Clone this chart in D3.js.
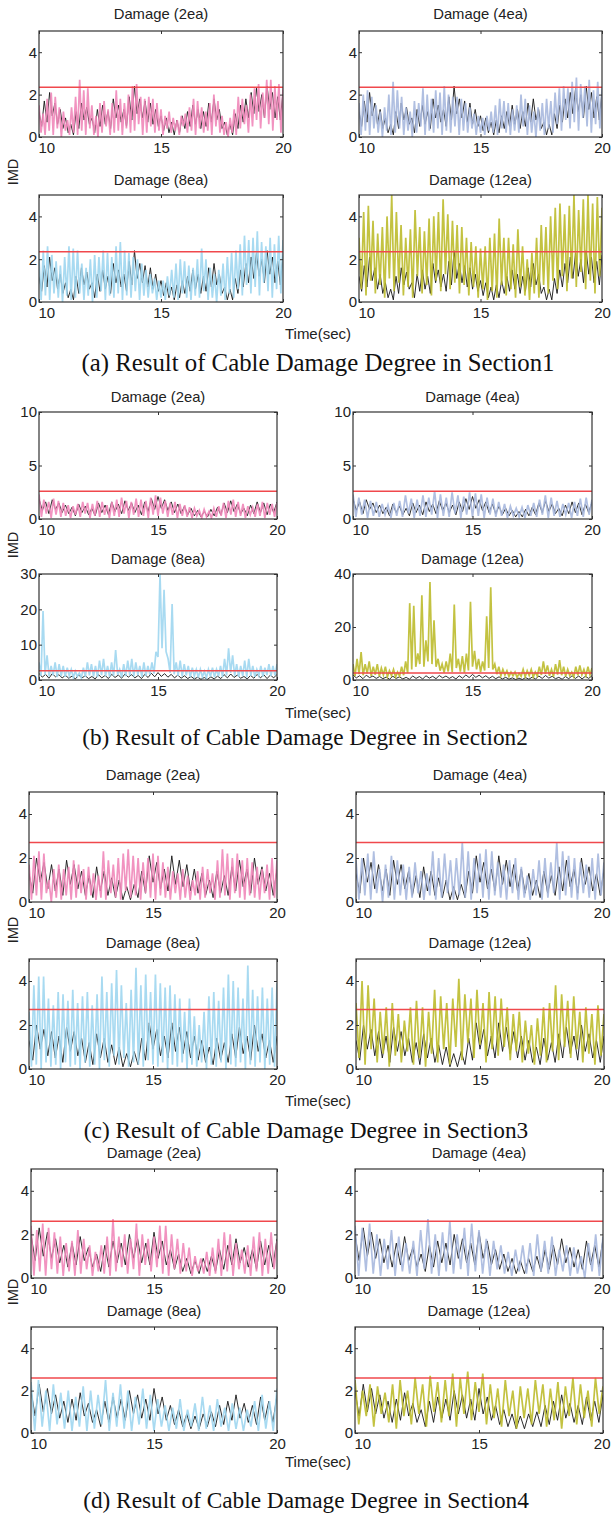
<!DOCTYPE html>
<html>
<head>
<meta charset="utf-8">
<script src="https://cdn.jsdelivr.net/npm/d3@7"></script>
<style>
  body { margin: 0; background: #fff; }
  svg { display: block; }
</style>
</head>
<body>
<script>
// reference (undamaged) response, black, one per section
const refA = [1.2,0.5, 1.7,0.7, 2.1,1.0, 1.6,0.6, 1.3,0.4, 0.9,0.2, 0.6,0.1, 1.2,0.4, 1.6,0.8, 1.4,0.6, 0.9,0.2, 1.3,0.5, 1.5,0.6, 1.2,0.4, 1.8,0.9, 1.5,0.7, 1.3,0.5, 1.9,0.8, 2.4,1.1, 1.8,0.9, 1.7,0.7, 1.6,0.6, 1.3,0.5, 1.0,0.3, 0.9,0.2, 0.7,0.1, 0.8,0.2, 1.0,0.4, 1.2,0.5, 1.5,0.6, 1.3,0.4, 1.2,0.5, 1.6,0.7, 1.8,0.8, 1.3,0.4, 0.7,0.1, 0.6,0.1, 1.1,0.4, 1.5,0.7, 1.8,0.9, 2.1,1.1, 2.3,1.2, 2.0,0.9, 2.4,1.3, 2.1,0.9, 1.9,0.8, 2.2];
const refB = [1.9,0.8, 1.6,0.5, 1.8,0.9, 1.5,0.6, 1.3,0.5, 1.1,0.3, 1.4,0.6, 1.2,0.4, 1.0,0.3, 1.5,0.6, 1.3,0.4, 1.6,0.7, 1.4,0.5, 1.7,0.8, 1.5,0.6, 1.3,0.4, 1.6,0.7, 1.9,0.9, 2.1,1.0, 1.8,0.8, 1.6,0.6, 1.4,0.5, 1.2,0.4, 1.0,0.3, 0.8,0.2, 0.7,0.2, 0.9,0.3, 1.1,0.4, 1.5,0.6, 1.7,0.7, 1.4,0.5, 1.0,0.3, 1.3,0.5, 1.6,0.6, 1.5,0.4, 1.4,0.6, 1.6];
const refC = [1.3,0.4, 2.0,0.9, 1.8,0.6, 1.7,0.5, 1.5,0.3, 1.9,0.8, 1.7,0.6, 1.4,0.3, 1.2,0.2, 1.6,0.5, 1.4,0.3, 1.1,0.2, 1.0,0.1, 0.7,0.1, 0.8,0.2, 1.4,0.4, 2.1,0.9, 1.8,0.6, 1.5,0.5, 2.1,0.8, 1.9,0.7, 1.7,0.5, 1.5,0.4, 1.3,0.3, 1.0,0.2, 1.4,0.4, 1.2,0.3, 1.6,0.5, 1.9,0.7, 1.5,0.4, 2.0,0.8, 1.6,0.5, 1.3,0.3, 1.5];
const refD = [2.0,0.8, 2.3,1.0, 2.1,0.9, 1.8,0.7, 1.5,0.5, 1.6,0.6, 1.9,0.8, 1.4,0.5, 1.1,0.3, 1.5,0.5, 1.7,0.7, 1.6,0.6, 2.0,0.9, 1.8,0.7, 1.6,0.6, 2.1,0.9, 1.7,0.6, 1.3,0.4, 1.1,0.3, 0.9,0.2, 0.8,0.2, 0.9,0.3, 1.0,0.3, 1.3,0.4, 1.5,0.6, 1.8,0.7, 1.4,0.5, 1.3,0.4, 1.7,0.6, 1.5,0.5, 1.8];

// damaged responses, section 1
const dmgA2 = [1.5,0.2, 1.1,0.1, 1.8,0.3, 2.1,0.1, 1.9,0.4, 1.4,0, 1.2,0.3, 0.8,0.1, 1.4,0.2, 1.9,0.1, 2.7,0.3, 2.2,0.1, 2.3,0.4, 1.5,0.1, 1.0,0, 1.6,0.2, 1.7,0.5, 1.3,0.1, 1.6,0.2, 2.2,0.3, 1.8,0.1, 1.6,0.4, 2.0,0.2, 2.4,0.3, 2.5,0.6, 1.9,0.1, 1.8,0.2, 1.9,0.5, 1.8,0.2, 1.6,0.3, 1.3,0.1, 1.0,0.4, 1.2,0.2, 0.9,0.3, 0.8,0.1, 1.0,0.5, 1.1,0.2, 1.4,0.3, 1.8,0.1, 1.7,0.4, 1.4,0.2, 1.2,0.3, 1.6,0.1, 2.0,0.5, 1.7,0.2, 1.0,0.1, 0.7,0, 0.9,0.2, 1.3,0.1, 1.9,0.4, 1.8,0.6, 1.5,0.2, 2.0,0.5, 2.3,0.8, 2.5,0.4, 2.1,0.9, 2.7,0.6, 2.7,0.3, 2.4,0.8, 2.5,0.2, 2.3];
const dmgA4 = [1.6,0.1, 2.0,0.3, 2.2,0.1, 1.9,0.4, 1.5,0.2, 1.2,0, 1.4,0.3, 2.0,0.1, 2.6,0.2, 2.2,0.4, 1.9,0.1, 1.4,0.3, 1.2,0, 1.7,0.2, 1.6,0.5, 2.3,0.1, 2.0,0.3, 1.8,0.2, 2.2,0.4, 2.1,0.1, 2.4,0.3, 2.0,0.2, 1.9,0.5, 1.9,0.1, 1.8,0.3, 1.6,0.2, 1.4,0.4, 1.1,0.1, 1.0,0.2, 0.9,0.1, 1.0,0.3, 1.2,0.2, 1.5,0.1, 1.8,0.4, 1.7,0.2, 1.6,0.1, 1.3,0.3, 1.5,0.2, 2.0,0.5, 1.8,0.1, 1.5,0.2, 1.2,0, 1.4,0.3, 1.6,0.1, 1.8,0.4, 1.7,0.2, 2.1,0.6, 2.3,0.3, 2.4,0.8, 2.3,0.4, 2.6,0.7, 2.8,0.3, 2.5,0.9, 2.4,0.5, 2.7,0.2, 2.2,0.6, 2.6,0.4, 2.3];
const dmgA8 = [2.0,0.1, 2.4,0.3, 2.6,0.1, 2.2,0.4, 1.9,0.2, 1.7,0, 2.1,0.3, 2.6,0.1, 2.5,0.2, 2.4,0.4, 1.8,0.1, 1.6,0.3, 2.0,0, 2.2,0.2, 2.1,0.5, 2.4,0.1, 2.3,0.3, 2.1,0.2, 2.6,0.4, 2.8,0.1, 2.4,0.3, 2.3,0.2, 2.1,0.5, 2.0,0.1, 1.8,0.3, 1.5,0.2, 1.3,0.4, 1.1,0.1, 1.0,0.2, 1.0,0.1, 1.2,0.3, 1.5,0.2, 1.8,0.1, 2.0,0.4, 1.9,0.2, 1.7,0.1, 1.6,0.3, 2.0,0.2, 2.5,0.5, 2.0,0.1, 1.6,0.2, 1.3,0, 1.5,0.3, 1.8,0.1, 2.1,0.4, 2.3,0.2, 2.4,0.6, 2.7,0.3, 3.1,0.8, 2.9,0.4, 3.0,0.7, 3.3,0.3, 2.8,0.9, 2.6,0.5, 3.0,0.2, 2.7,0.6, 3.1,0.4, 2.9];
const dmgA12 = [3.0,0.6, 4.2,0.3, 4.5,1.0, 3.8,0.4, 3.2,0.8, 3.5,0.2, 4.0,1.1, 5.0,0.5, 4.2,0.9, 3.6,0.3, 3.0,0.7, 3.4,0.2, 4.3,1.2, 3.5,0.4, 3.3,0.8, 3.9,0.3, 4.0,1.0, 4.2,0.5, 4.8,1.3, 4.1,0.6, 3.8,0.9, 3.6,0.4, 3.5,0.8, 3.0,0.3, 2.8,0.7, 2.6,0.2, 2.5,0.6, 2.6,0.1, 3.0,0.5, 3.2,0.2, 3.9,0.8, 3.0,0.3, 3.0,0.6, 2.7,0.2, 3.4,0.7, 2.6,0.3, 2.0,0.1, 2.3,0.4, 3.0,0.2, 3.6,0.8, 3.5,0.4, 4.0,1.0, 4.4,0.6, 4.6,1.2, 4.1,0.5, 4.5,1.1, 5.0,0.7, 4.3,1.4, 4.8,0.6, 5.0,1.0, 4.6,0.4, 4.9,1.2, 4.4];

// section 2
const dmgB2 = [2.3,0.2, 1.8,0.5, 1.6,0.1, 1.9,0.4, 1.7,0.2, 1.5,0.3, 1.3,0.1, 1.2,0.4, 1.4,0.2, 1.6,0.5, 1.5,0.1, 1.4,0.3, 1.7,0.2, 1.6,0.4, 1.3,0.1, 1.6,0.3, 1.8,0.2, 2.0,0.5, 1.7,0.1, 1.6,0.4, 1.9,0.2, 1.8,0.3, 1.7,0.1, 2.0,0.4, 2.2,0.3, 2.0,0.5, 1.7,0.2, 1.5,0.4, 1.6,0.1, 1.4,0.3, 1.3,0.2, 1.1,0.1, 1.0,0.3, 0.8,0.1, 0.9,0.2, 0.7,0.1, 1.0,0.2, 1.2,0.3, 1.5,0.1, 1.7,0.4, 1.8,0.2, 1.6,0.3, 1.4,0.1, 1.2,0.4, 1.1,0.2, 1.4,0.3, 1.6,0.1, 1.5,0.4, 1.4,0.2, 1.5];
const dmgB4 = [2.3,0.2, 2.0,0.4, 1.8,0.1, 1.7,0.3, 1.6,0.2, 1.4,0.4, 1.3,0.1, 1.5,0.3, 1.7,0.2, 2.2,0.5, 1.9,0.1, 1.8,0.3, 2.2,0.2, 2.0,0.4, 2.6,0.1, 2.3,0.3, 2.0,0.2, 2.5,0.5, 2.2,0.1, 2.1,0.4, 2.5,0.2, 2.4,0.3, 2.3,0.1, 2.0,0.4, 1.9,0.2, 1.6,0.3, 1.4,0.1, 1.2,0.3, 1.0,0.2, 1.1,0.1, 1.3,0.3, 1.5,0.2, 1.8,0.4, 2.2,0.1, 2.0,0.3, 1.7,0.2, 1.4,0.4, 1.5,0.1, 1.6,0.3, 1.9,0.2, 2.0,0.4, 1.8];
const dmgB8 = [5,1.2, 19.5,1.5, 7,1.0, 4,1.3, 5,0.8, 4.5,1.1, 4,0.9, 3.5,1.2, 3,0.7, 2.5,1.0, 2,0.6, 3.5,0.9, 5,1.3, 4.5,1.0, 4,0.8, 5.5,1.4, 6,1.1, 4,0.9, 5,1.2, 8.5,1.5, 3,0.8, 4.5,1.1, 5.5,1.3, 6,1.0, 5,1.4, 4,0.9, 5,1.2, 4,1.5, 5,1.8, 8,6.5, 30,9, 25.5,8, 6,2.0, 21.5,1.6, 5,1.2, 5.5,1.0, 4.5,1.3, 4,0.8, 3.5,1.1, 3,0.7, 3,0.9, 2.5,0.6, 3,1.0, 3.5,0.8, 3,1.1, 4,0.9, 6,1.3, 9,2.0, 7,1.2, 4.5,0.9, 4,1.1, 5.5,0.8, 6,1.2, 4,0.9, 3,1.3, 4,1.0, 3.5,1.4, 4.5,1.1, 4,1.3, 4.5];
const dmgB12 = [6,1.5, 8,2.2, 10.5,1.8, 6,2.5, 7,1.6, 5,2.0, 6,1.4, 4.5,1.9, 5,1.2, 3.5,1.7, 4,1.1, 3,1.5, 5,1.8, 7,2.6, 29,4, 28,5, 10,6, 32,5, 15,7, 37,6, 22.5,5, 8,3.5, 6,2.8, 7,3.2, 10,3.0, 28.5,4.5, 8,3.2, 9,2.8, 10,3.6, 29.5,5, 11,4.0, 8,3.1, 7,3.6, 24,4.5, 35,4, 6,2.2, 5,1.6, 4,1.9, 3.5,1.3, 3,1.6, 3,1.0, 2.5,1.4, 4,1.2, 3.5,1.7, 4,1.1, 3,1.5, 5,1.9, 7,2.2, 5.5,1.6, 4,1.3, 6,2.0, 7.5,1.8, 5,1.4, 4,1.7, 3,1.2, 5,1.8, 5.5,2.0, 4,1.6, 5,1.9, 4.5];

// section 3
const dmgC2 = [1.7,0.1, 2.1,0.3, 2.3,0.1, 2.2,0.4, 1.0,0, 1.5,0.2, 1.7,0.1, 1.5,0.3, 1.6,0.1, 1.9,0.2, 1.7,0.4, 1.5,0.1, 1.6,0.3, 1.3,0.1, 1.2,0.2, 2.3,0.1, 1.9,0.4, 1.7,0.2, 2.0,0.1, 2.2,0.5, 2.4,0.2, 2.1,0.3, 2.0,0.1, 1.8,0.4, 2.0,0.2, 2.2,0.1, 2.1,0.3, 1.8,0.2, 1.6,0.1, 1.4,0.4, 1.3,0.1, 1.5,0.2, 1.2,0.1, 1.0,0.3, 1.4,0.1, 1.6,0.2, 1.5,0.4, 1.3,0.1, 1.9,0.2, 2.4,0.3, 2.2,0.1, 2.0,0.4, 2.2,0.2, 1.9,0.1, 2.0,0.3, 1.8,0.2, 1.6,0.1, 1.5,0.4, 1.7,0.1, 2.0,0.2, 1.9];
const dmgC4 = [1.9,0.1, 2.0,0.3, 2.2,0.1, 2.3,0.4, 1.5,0, 1.7,0.2, 2.1,0.1, 1.9,0.3, 1.7,0.1, 1.6,0.2, 1.8,0.4, 1.4,0.1, 1.3,0.3, 2.3,0.1, 2.0,0.2, 2.2,0.4, 1.9,0.1, 2.0,0.3, 2.7,0.2, 2.3,0.1, 2.0,0.4, 2.2,0.2, 2.4,0.1, 2.3,0.3, 1.8,0.2, 1.7,0.1, 1.9,0.4, 2.0,0.1, 1.6,0.2, 1.2,0.1, 1.5,0.3, 1.9,0.1, 2.0,0.2, 1.8,0.4, 2.7,0.1, 2.3,0.3, 2.1,0.2, 2.0,0.1, 1.8,0.4, 1.7,0.2, 2.0,0.1, 2.2,0.3, 1.8];
const dmgC8 = [2.6,0.1, 3.8,0.2, 4.2,0, 4.2,0.3, 3.2,0.1, 2.9,0.2, 3.5,0, 3.4,0.3, 3.1,0.1, 3.6,0.2, 3.0,0, 3.3,0.3, 3.5,0.1, 2.9,0.2, 3.4,0, 4.2,0.4, 3.5,0.1, 3.9,0.6, 4.5,0.2, 3.8,0.5, 3.0,0.1, 3.6,0.3, 4.6,0.2, 3.8,0.1, 4.3,0.4, 3.5,0.2, 4.3,0.1, 3.9,0.3, 3.7,0, 3.8,0.2, 3.4,0.1, 3.2,0.3, 2.6,0, 3.2,0.2, 2.4,0.1, 2.0,0.3, 2.6,0, 3.3,0.2, 3.5,0.1, 3.1,0.3, 3.7,0, 4.3,0.2, 4.0,0.1, 3.7,0.3, 3.2,0, 4.7,0.2, 3.6,0.1, 3.3,0.3, 3.7,0, 3.2,0.2, 3.7,0.1, 3.9];
const dmgC12 = [3.0,0.5, 4.0,0.2, 3.8,0.9, 3.2,0.3, 2.6,0.7, 2.8,0.1, 3.0,0.6, 2.5,0.3, 2.2,0.8, 2.8,0.2, 3.1,0.5, 2.8,0.1, 2.6,0.7, 3.6,0.3, 3.3,0.9, 3.0,0.2, 3.2,1.0, 4.1,0.4, 3.4,1.2, 3.2,0.5, 3.6,1.1, 3.0,0.3, 3.5,0.9, 3.3,0.6, 3.2,1.0, 2.8,0.4, 2.5,0.8, 2.6,0.3, 2.2,0.7, 2.0,0.2, 2.3,0.6, 2.8,0.3, 3.0,0.8, 3.8,0.4, 3.4,1.0, 3.1,0.5, 3.3,0.9, 2.6,0.3, 2.8,0.7, 2.5,0.2, 2.9,0.6, 2.5];

// section 4
const dmgD2 = [2.4,0.1, 2.2,0.3, 2.5,0.1, 2.3,0.4, 2.1,0.2, 1.9,0.1, 1.6,0.3, 1.7,0.1, 2.2,0.2, 1.8,0.4, 1.5,0.1, 1.2,0.3, 1.5,0.2, 1.9,0.1, 2.7,0.3, 1.9,0.5, 2.0,0.2, 1.8,0.4, 2.5,0.1, 2.0,0.6, 1.8,0.3, 1.9,0.5, 2.4,0.2, 2.4,0.1, 2.0,0.4, 1.8,0.2, 1.6,0.3, 1.4,0.1, 1.0,0.3, 0.9,0.2, 1.2,0.1, 1.4,0.2, 1.8,0.1, 2.1,0.3, 2.0,0.1, 1.6,0.4, 1.3,0.2, 1.5,0.1, 1.9,0.3, 2.1,0.1, 1.8,0.2, 2.1,0.4, 1.7];
const dmgD4 = [2.4,0.1, 2.3,0.3, 2.5,0.2, 2.0,0.1, 1.8,0.4, 2.2,0.1, 1.9,0.3, 1.6,0.2, 1.7,0.1, 2.2,0.4, 2.7,0.2, 2.0,0.1, 2.1,0.3, 2.6,0.2, 2.0,0.4, 2.3,0.1, 2.5,0.3, 2.2,0.2, 1.8,0.1, 1.7,0.4, 1.5,0.2, 1.2,0.1, 1.3,0.3, 1.5,0.2, 1.6,0.1, 2.0,0.3, 1.7,0.2, 1.9,0.1, 1.3,0.3, 1.5,0.1, 1.4,0.2, 1.0,0, 1.6,0.3, 2.0,0.1, 1.9];
const dmgD8 = [2.4,0.1, 2.5,0.3, 2.0,0.1, 2.3,0.4, 1.9,0.2, 2.0,0.1, 1.7,0.3, 2.2,0.1, 2.0,0.2, 1.8,0.4, 2.5,0.1, 1.9,0.3, 2.3,0.2, 2.0,0.1, 1.7,0.4, 2.1,0.2, 1.8,0.1, 1.6,0.3, 1.3,0.1, 1.2,0.2, 1.6,0.1, 1.1,0.3, 1.4,0.1, 1.7,0.2, 1.3,0.1, 1.6,0.3, 1.2,0.1, 1.4,0.2, 1.2,0.1, 1.1,0.3, 1.5,0.1, 1.8,0.2, 1.5,0.1, 2.1];
const dmgD12 = [2.5,0.4, 2.0,0.8, 2.3,0.3, 2.2,0.9, 1.9,0.5, 2.3,0.2, 2.5,0.8, 2.0,0.4, 2.6,0.9, 2.3,0.3, 2.7,1.0, 2.4,0.5, 2.5,0.8, 2.8,0.3, 2.6,0.9, 2.9,0.6, 2.4,1.0, 2.8,0.4, 2.3,0.7, 2.1,0.3, 2.5,0.8, 2.0,0.2, 2.2,0.7, 2.1,0.4, 2.5,0.9, 2.3,0.3, 2.1,0.6, 2.4,0.2, 2.2,0.8, 2.6,0.4, 2.3,0.7, 2.0,0.3, 2.6,0.9, 2.2];

const timeTicks = [10, 15, 20];
const panelTitles = ["Damage (2ea)", "Damage (4ea)", "Damage (8ea)", "Damage (12ea)"];
const captions = [
  "(a) Result of Cable Damage Degree in Section1",
  "(b) Result of Cable Damage Degree in Section2",
  "(c) Result of Cable Damage Degree in Section3",
  "(d) Result of Cable Damage Degree in Section4"
];
const thresholds = [2.35, 2.6, 2.7, 2.6];
const yMaxA = [5, 5, 5, 5], yMaxB = [10, 10, 30, 40], yMaxC = [5, 5, 5, 5], yMaxD = [5, 5, 5, 5];
const yTicksA = [[0, 2, 4], [0, 2, 4], [0, 2, 4], [0, 2, 4]];
const yTicksB = [[0, 5, 10], [0, 5, 10], [0, 10, 20, 30], [0, 20, 40]];

const sections = [
  { ref: refA, series: [dmgA2, dmgA4, dmgA8, dmgA12], yMax: yMaxA, yTicks: yTicksA },
  { ref: refB, series: [dmgB2, dmgB4, dmgB8, dmgB12], yMax: yMaxB, yTicks: yTicksB },
  { ref: refC, series: [dmgC2, dmgC4, dmgC8, dmgC12], yMax: yMaxC, yTicks: yTicksA },
  { ref: refD, series: [dmgD2, dmgD4, dmgD8, dmgD12], yMax: yMaxD, yTicks: yTicksA }
];

const colors = ["#ef87b9", "#a7b8de", "#9fd6f0", "#bdbb2c"];
const sans = "'Liberation Sans', Arial, sans-serif";
const serif = "'Liberation Serif', 'Times New Roman', serif";

// pixel layout of each section (box edges, text rows)
const layout = [
  { cols: [[39, 283], [359, 602]], rows: [[31, 137], [195, 302]], titleY: [14, 180], imdY: 172, timeY: 333, capX: 318, capY: 362, capSize: 24.8 },
  { cols: [[39, 277], [353, 592]], rows: [[412, 519], [574, 680]], titleY: [397, 559], imdY: 545, timeY: 712, capX: 305, capY: 737, capSize: 23.3 },
  { cols: [[29, 277], [356, 604]], rows: [[792, 902], [959, 1069]], titleY: [775, 943], imdY: 930, timeY: 1100, capX: 306, capY: 1130, capSize: 23.3 },
  { cols: [[31, 277], [355, 603]], rows: [[1169, 1278], [1327, 1433]], titleY: [1153, 1311], imdY: 1292, timeY: 1461, capX: 306, capY: 1500, capSize: 23.3 }
];

const width = 611, height = 1517;
const svg = d3.select("body").append("svg")
  .attr("width", width)
  .attr("height", height);

let clipCount = 0;

function drawPanel(x0, x1, y0, y1, sec, k, threshold) {
  const x = d3.scaleLinear().domain([10, 20]).range([x0, x1]);
  const y = d3.scaleLinear().domain([0, sec.yMax[k]]).range([y1, y0]);
  const g = svg.append("g");

  const clipId = "clip" + clipCount++;
  g.append("clipPath").attr("id", clipId)
    .append("rect")
    .attr("x", x0).attr("y", y0)
    .attr("width", x1 - x0).attr("height", y1 - y0);

  const plot = g.append("g").attr("clip-path", "url(#" + clipId + ")");

  function lineFor(arr) {
    const t = d3.scaleLinear().domain([0, arr.length - 1]).range([10, 20]);
    return d3.line()
      .x(function (d, i) { return x(t(i)); })
      .y(function (d) { return y(d); });
  }

  plot.append("path")
    .datum(sec.ref)
    .attr("d", lineFor(sec.ref))
    .attr("fill", "none")
    .attr("stroke", "#151515")
    .attr("stroke-width", 0.9);

  const dmg = sec.series[k];
  plot.append("path")
    .datum(dmg)
    .attr("d", lineFor(dmg))
    .attr("fill", "none")
    .attr("stroke", colors[k])
    .attr("stroke-width", 1.7)
    .attr("stroke-linejoin", "miter")
    .attr("stroke-opacity", 0.9);

  plot.append("line")
    .attr("x1", x(10)).attr("x2", x(20))
    .attr("y1", y(threshold)).attr("y2", y(threshold))
    .attr("stroke", "#f0484c")
    .attr("stroke-width", 1.5);

  // axes, ticks pointing inwards (MATLAB style)
  const xb = g.append("g").attr("transform", "translate(0," + y1 + ")")
    .call(d3.axisBottom(x).tickValues(timeTicks).tickSize(-3).tickPadding(5).tickFormat(d3.format("d")));
  g.append("g").attr("transform", "translate(0," + y0 + ")")
    .call(d3.axisTop(x).tickValues(timeTicks).tickSize(-3).tickFormat(""));
  g.append("g").attr("transform", "translate(" + x0 + ",0)")
    .call(d3.axisLeft(y).tickValues(sec.yTicks[k]).tickSize(-3).tickPadding(2).tickFormat(d3.format("d")));
  g.append("g").attr("transform", "translate(" + x1 + ",0)")
    .call(d3.axisRight(y).tickValues(sec.yTicks[k]).tickSize(-3).tickFormat(""));

  xb.selectAll(".tick text").filter(function (d) { return d === 10; })
    .attr("text-anchor", "start").attr("x", -1);
  // keep the last label inside the page
  if (x1 + 9 > width) {
    xb.selectAll(".tick text").filter(function (d) { return d === 20; })
      .attr("text-anchor", "end").attr("x", width - x1 - 1);
  }

  g.selectAll(".domain").remove();
  g.selectAll(".tick line").attr("stroke", "#333");
  g.selectAll(".tick text")
    .attr("fill", "#222")
    .style("font-family", sans)
    .style("font-size", "15px");

  g.append("rect")
    .attr("x", x0).attr("y", y0)
    .attr("width", x1 - x0).attr("height", y1 - y0)
    .attr("fill", "none")
    .attr("stroke", "#333")
    .attr("stroke-width", 1.2);
}

sections.forEach(function (sec, s) {
  const L = layout[s];
  for (let k = 0; k < 4; k++) {
    const r = Math.floor(k / 2), c = k % 2;
    const [x0, x1] = L.cols[c];
    const [y0, y1] = L.rows[r];
    drawPanel(x0, x1, y0, y1, sec, k, thresholds[s]);

    svg.append("text")
      .attr("x", (x0 + x1) / 2)
      .attr("y", L.titleY[r])
      .attr("text-anchor", "middle")
      .attr("dominant-baseline", "central")
      .style("font-family", sans)
      .style("font-size", "14.8px")
      .attr("fill", "#222")
      .text(panelTitles[k]);
  }

  svg.append("text")
    .attr("transform", "translate(13," + L.imdY + ") rotate(-90)")
    .attr("text-anchor", "middle")
    .attr("dominant-baseline", "central")
    .style("font-family", sans)
    .style("font-size", "14.5px")
    .attr("fill", "#222")
    .text("IMD");

  svg.append("text")
    .attr("x", 318)
    .attr("y", L.timeY)
    .attr("text-anchor", "middle")
    .attr("dominant-baseline", "central")
    .style("font-family", sans)
    .style("font-size", "15px")
    .attr("fill", "#222")
    .text("Time(sec)");

  svg.append("text")
    .attr("x", L.capX)
    .attr("y", L.capY)
    .attr("text-anchor", "middle")
    .attr("dominant-baseline", "central")
    .style("font-family", serif)
    .style("font-size", L.capSize + "px")
    .attr("fill", "#111")
    .text(captions[s]);
});
</script>
</body>
</html>
